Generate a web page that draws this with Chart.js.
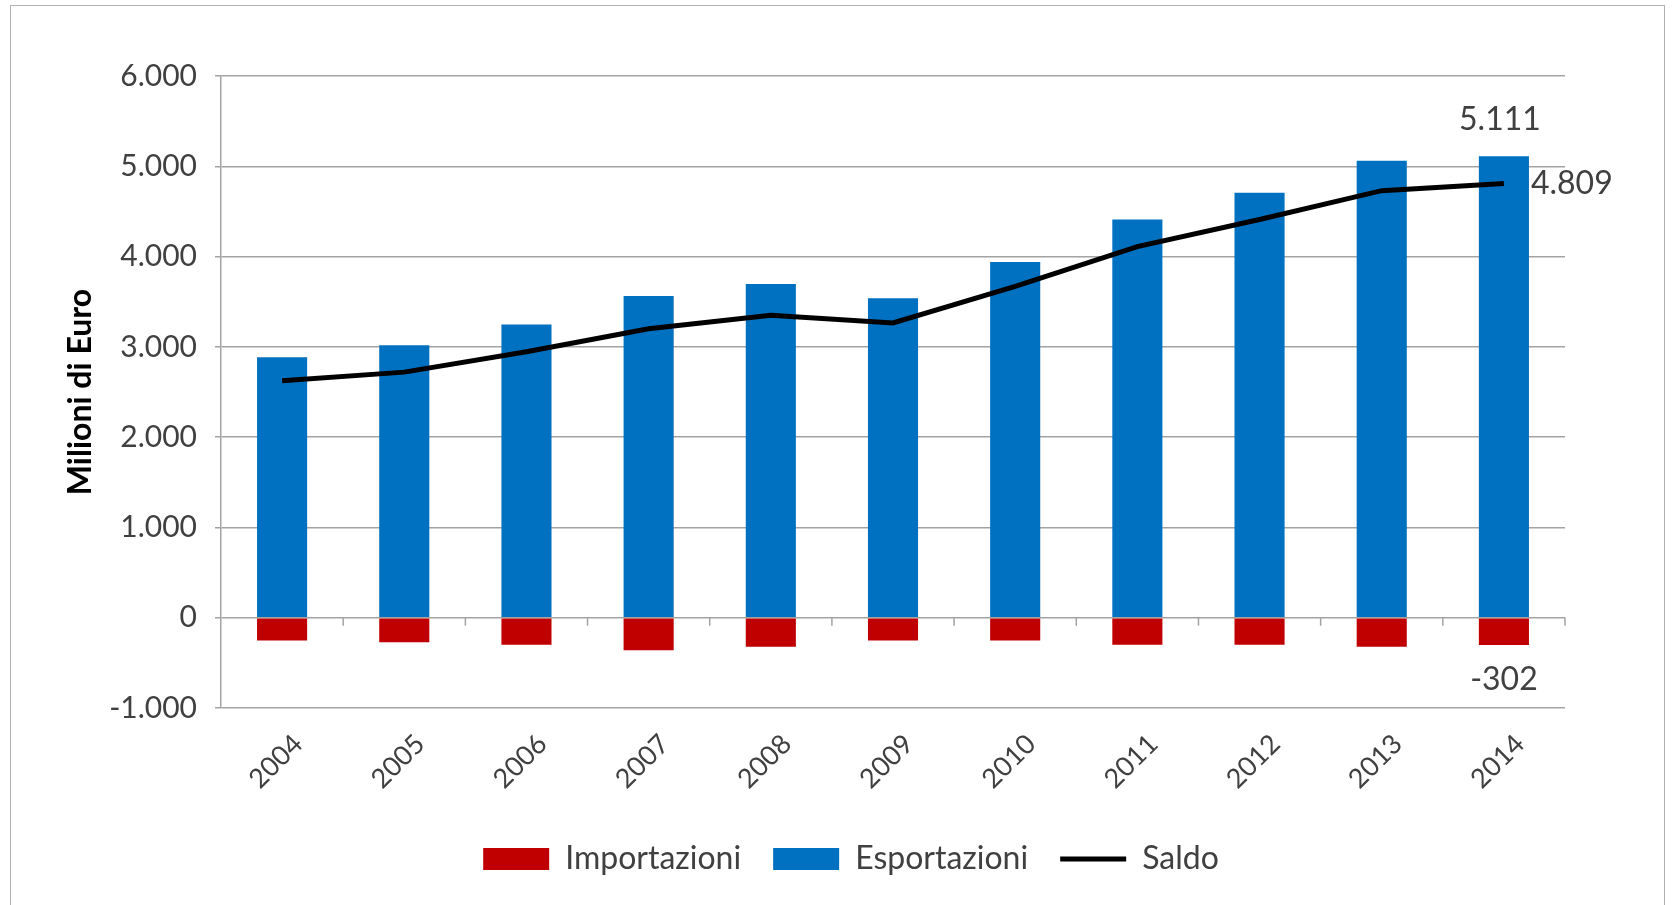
<!DOCTYPE html>
<html>
<head>
<meta charset="utf-8">
<script src="https://cdn.jsdelivr.net/npm/chart.js@4"></script>
<style>
    html, body { margin: 0; padding: 0; background: #fff; }
    #frame {
        position: absolute;
        left: 10px;
        top: 5px;
        width: 1653px;
        height: 905px;
        border: 1px solid #b0b0b0;
        border-bottom: none;
    }
    #chart { display: block; }
</style>
</head>
<body>
<div id="frame"><canvas id="chart" width="1653" height="899"></canvas></div>
<script>
// Data (Milioni di Euro)
const years = ['2004', '2005', '2006', '2007', '2008', '2009', '2010', '2011', '2012', '2013', '2014'];
const importazioni = [-251, -273, -299, -361, -321, -251, -251, -299, -299, -321, -302];
const esportazioni = [2886, 3018, 3247, 3564, 3697, 3538, 3940, 4411, 4706, 5060, 5111];
const saldo = [2625, 2720, 2945, 3200, 3350, 3265, 3670, 4110, 4410, 4730, 4809];
const yTicks = [-1000, 0, 1000, 2000, 3000, 4000, 5000, 6000];

const FONT = 'Lato, "Open Sans", sans-serif';
const TEXT = '#404040';
const GRID = '#a3a3a3';

function fmt(v) {
    // italian style thousands separator
    const s = Math.abs(v).toString().replace(/\B(?=(\d{3})+(?!\d))/g, '.');
    return (v < 0 ? '-' : '') + s;
}

// small tick marks on the zero line, between categories
const zeroTicks = {
    id: 'zeroTicks',
    afterDatasetsDraw(chart) {
        const x = chart.scales.x, y = chart.scales.y;
        const y0 = y.getPixelForValue(0);
        const ctx = chart.ctx;
        ctx.save();
        ctx.strokeStyle = GRID;
        ctx.lineWidth = 1.5;
        ctx.beginPath();
        for (let i = 0; i < years.length; i++) {
            const b = i < years.length - 1
                ? (x.getPixelForTick(i) + x.getPixelForTick(i + 1)) / 2
                : x.right;
            ctx.moveTo(b, y0);
            ctx.lineTo(b, y0 + 8);
        }
        ctx.stroke();
        ctx.restore();
    }
};

// value labels for the last year
const lastLabels = {
    id: 'lastLabels',
    afterDatasetsDraw(chart) {
        const ctx = chart.ctx;
        const n = years.length - 1;
        const imp = chart.getDatasetMeta(0).data[n];
        const esp = chart.getDatasetMeta(1).data[n];
        const sal = chart.getDatasetMeta(2).data[n];
        ctx.save();
        ctx.font = '32px ' + FONT;
        ctx.fillStyle = TEXT;
        ctx.textAlign = 'center';
        ctx.textBaseline = 'middle';
        ctx.fillText(fmt(esportazioni[n]), esp.x - 4, esp.y - 37);
        ctx.fillText(fmt(importazioni[n]), imp.x, imp.y + 35);
        ctx.textAlign = 'left';
        ctx.fillText(fmt(saldo[n]), sal.x + 27, sal.y);
        ctx.restore();
    }
};

// the legend sits a bit right of centre in the original
const legendShift = {
    id: 'legendShift',
    afterLayout(chart) {
        chart.legend.left += 38;
        chart.legend.right += 38;
    }
};

const ctx = document.getElementById('chart').getContext('2d');
new Chart(ctx, {
    type: 'bar',
    data: {
        labels: years,
        datasets: [
            {
                label: 'Importazioni',
                data: importazioni,
                backgroundColor: '#C00000',
                borderWidth: 0,
                pointStyle: 'rect',
                categoryPercentage: 1,
                barPercentage: 0.41
            },
            {
                label: 'Esportazioni',
                data: esportazioni,
                backgroundColor: '#0070C0',
                borderWidth: 0,
                pointStyle: 'rect',
                categoryPercentage: 1,
                barPercentage: 0.41
            },
            {
                type: 'line',
                label: 'Saldo',
                data: saldo,
                borderColor: '#000000',
                backgroundColor: '#000000',
                borderWidth: 5,
                pointRadius: 0,
                pointStyle: 'line',
                tension: 0,
                order: -1
            }
        ]
    },
    options: {
        responsive: false,
        animation: false,
        layout: {
            padding: { left: 50, right: 99, top: 70, bottom: 20 }
        },
        scales: {
            x: {
                stacked: true,
                grid: { display: false },
                border: { display: false },
                afterFit(axis) { axis.height = 103; },
                ticks: {
                    color: TEXT,
                    font: { family: FONT, size: 27 },
                    minRotation: 45,
                    maxRotation: 45,
                    labelOffset: 16,
                    padding: 12
                }
            },
            y: {
                min: -1000,
                max: 6000,
                afterBuildTicks(axis) {
                    axis.ticks = yTicks.map(v => ({ value: v }));
                },
                afterFit(axis) { axis.width = 160; },
                grid: {
                    color: GRID,
                    lineWidth: 1.5,
                    tickLength: 6
                },
                border: { display: true, color: GRID, width: 1.5 },
                ticks: {
                    color: TEXT,
                    font: { family: FONT, size: 30 },
                    padding: 18,
                    callback: v => fmt(v)
                },
                title: {
                    display: true,
                    text: 'Milioni di Euro',
                    color: '#000000',
                    font: { family: FONT, size: 32, weight: 'bold' },
                    padding: { top: 0, bottom: 0 }
                }
            }
        },
        plugins: {
            legend: {
                position: 'bottom',
                labels: {
                    usePointStyle: true,
                    pointStyleWidth: 66,
                    boxHeight: 22,
                    color: TEXT,
                    font: { family: FONT, size: 32 },
                    padding: 32,
                    sort: (a, b) => a.datasetIndex - b.datasetIndex
                }
            },
            tooltip: { enabled: false }
        }
    },
    plugins: [zeroTicks, lastLabels, legendShift]
});
</script>
</body>
</html>
